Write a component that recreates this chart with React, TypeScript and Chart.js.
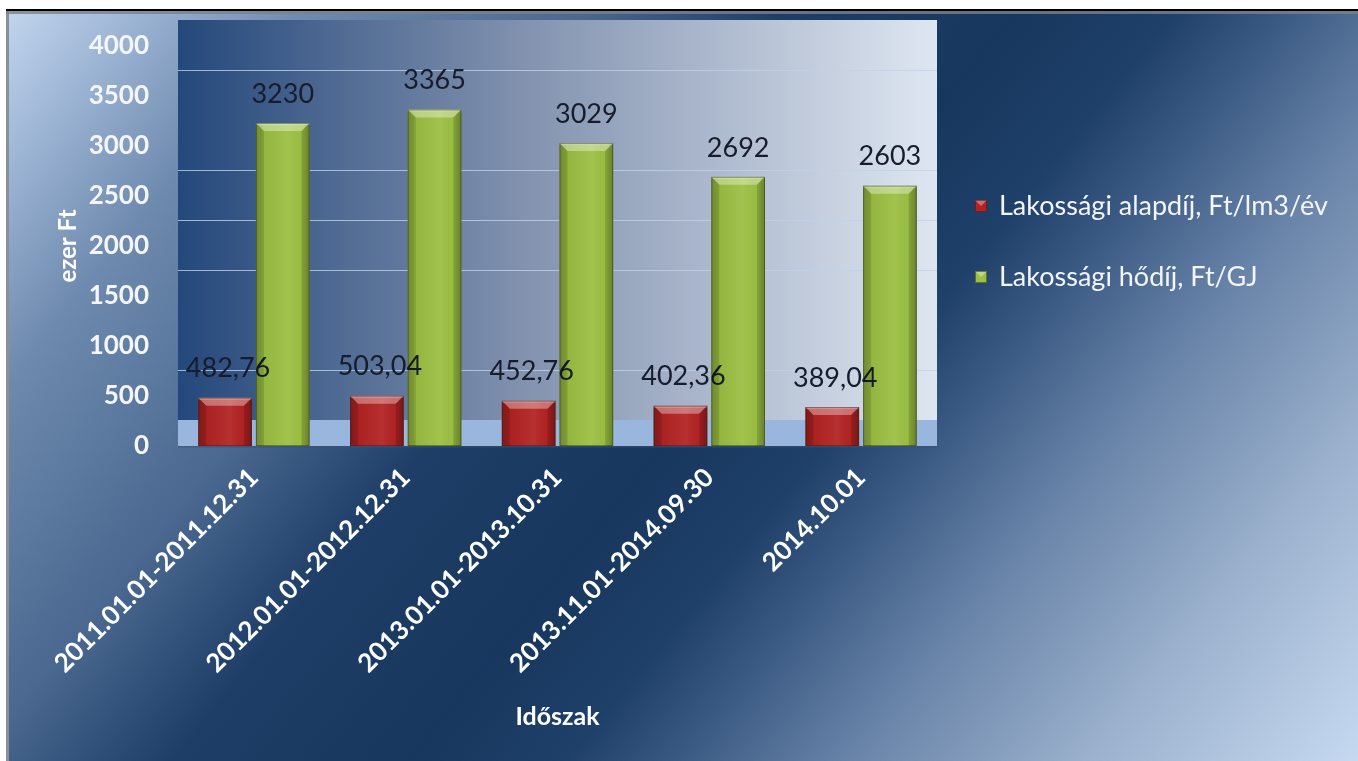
import React, { useEffect, useRef } from 'react';
import { Chart, registerables } from 'chart.js';

Chart.register(...registerables);

const categories = [
  '2011.01.01-2011.12.31',
  '2012.01.01-2012.12.31',
  '2013.01.01-2013.10.31',
  '2013.11.01-2014.09.30',
  '2014.10.01',
];
const alapdijValues = [482.76, 503.04, 452.76, 402.36, 389.04];
const hodijValues = [3230, 3365, 3029, 2692, 2603];
const seriesNames = ['Lakossági alapdíj, Ft/lm3/év', 'Lakossági hődíj, Ft/GJ'];
const yTickValues = [0, 500, 1000, 1500, 2000, 2500, 3000, 3500, 4000];
const wallGridValues = [500, 1500, 2000, 2500, 3500];
const yTitle = 'ezer Ft';
const xTitle = 'Időszak';

const W = 1358;
const H = 761;
const DEPTH = 26;
const FONT = 'Lato, "Open Sans", sans-serif';

const formatLabel = (ds: number, v: number) =>
  ds === 0 ? v.toFixed(2).replace('.', ',') : String(Math.round(v));

const backgroundPlugin = {
  id: 'bgPanel',
  beforeDraw(chart: any) {
    const ctx = chart.ctx as CanvasRenderingContext2D;
    const { left, right, top, bottom } = chart.chartArea;
    ctx.save();
    ctx.fillStyle = '#ffffff';
    ctx.fillRect(0, 0, W, H);
    // panel gradient
    const len = 1534;
    const ux = 690 / 888.6;
    const uy = 560 / 888.6;
    const g = ctx.createLinearGradient(0, 0, ux * len, uy * len);
    g.addColorStop(0, '#c6d9f1');
    g.addColorStop(0.08, '#9ab2d2');
    g.addColorStop(0.16, '#6e8aae');
    g.addColorStop(0.3, '#4a6890');
    g.addColorStop(0.4, '#1e3e67');
    g.addColorStop(0.52, '#17375e');
    g.addColorStop(0.6, '#1f4069');
    g.addColorStop(0.66, '#3d5c85');
    g.addColorStop(0.74, '#6883a8');
    g.addColorStop(0.86, '#9ab0cc');
    g.addColorStop(1, '#c6d9f1');
    ctx.fillStyle = g;
    ctx.fillRect(9, 11, W - 9, H - 11);
    // borders
    ctx.fillStyle = '#8a8f96';
    ctx.fillRect(6, 11, 3, H - 11);
    ctx.fillStyle = 'rgba(120,130,140,0.8)';
    ctx.fillRect(6, 11, W - 6, 3);
    ctx.fillStyle = '#000000';
    ctx.fillRect(6, 9, W - 6, 2);
    // back wall
    const wg = ctx.createLinearGradient(left, 0, right, 0);
    wg.addColorStop(0, '#24487b');
    wg.addColorStop(0.45, '#8191ae');
    wg.addColorStop(1, '#dee6f1');
    ctx.fillStyle = wg;
    ctx.fillRect(left, top - DEPTH, right - left, bottom - top);
    // wall grid lines
    const ys = chart.scales.y;
    ctx.strokeStyle = 'rgba(190,210,235,0.8)';
    ctx.lineWidth = 1.2;
    wallGridValues.forEach((v) => {
      const py = Math.round(ys.getPixelForValue(v) - DEPTH) + 0.5;
      ctx.beginPath();
      ctx.moveTo(left, py);
      ctx.lineTo(right, py);
      ctx.stroke();
    });
    // floor
    ctx.fillStyle = '#98b6de';
    ctx.fillRect(left, bottom - DEPTH, right - left, DEPTH);
    ctx.fillStyle = 'rgba(60,80,110,0.6)';
    ctx.fillRect(left, bottom, right - left, 1.5);
    ctx.restore();
  },
};

const bevelPlugin = {
  id: 'bevel',
  afterDatasetsDraw(chart: any) {
    const ctx = chart.ctx as CanvasRenderingContext2D;
    ctx.save();
    chart.data.datasets.forEach((ds: any, di: number) => {
      const meta = chart.getDatasetMeta(di);
      meta.data.forEach((el: any, i: number) => {
        const l = el.x - el.width / 2;
        const r = el.x + el.width / 2;
        const t = el.y;
        const b = el.base;
        const bv = 8;
        const fg = ctx.createLinearGradient(l, 0, r, 0);
        fg.addColorStop(0, 'rgba(0,0,0,0.18)');
        fg.addColorStop(0.15, 'rgba(0,0,0,0.05)');
        fg.addColorStop(0.6, 'rgba(255,255,255,0.06)');
        fg.addColorStop(0.88, 'rgba(0,0,0,0.02)');
        fg.addColorStop(1, 'rgba(0,0,0,0.2)');
        ctx.fillStyle = fg;
        ctx.fillRect(l, t, r - l, b - t);
        ctx.fillStyle = 'rgba(255,255,255,0.35)';
        ctx.beginPath();
        ctx.moveTo(l, t);
        ctx.lineTo(r, t);
        ctx.lineTo(r - bv, t + bv);
        ctx.lineTo(l + bv, t + bv);
        ctx.closePath();
        ctx.fill();
        ctx.fillStyle = 'rgba(255,255,255,0.25)';
        ctx.fillRect(l, t, r - l, 2);
        ctx.fillStyle = 'rgba(0,0,0,0.12)';
        ctx.beginPath();
        ctx.moveTo(l, t);
        ctx.lineTo(l + bv, t + bv);
        ctx.lineTo(l + bv, b);
        ctx.lineTo(l, b);
        ctx.closePath();
        ctx.fill();
        ctx.fillStyle = 'rgba(0,0,0,0.16)';
        ctx.beginPath();
        ctx.moveTo(r, t);
        ctx.lineTo(r - bv, t + bv);
        ctx.lineTo(r - bv, b);
        ctx.lineTo(r, b);
        ctx.closePath();
        ctx.fill();
        ctx.strokeStyle = 'rgba(40,40,30,0.45)';
        ctx.lineWidth = 1;
        ctx.strokeRect(l + 0.5, t + 0.5, r - l - 1, b - t - 1);
        ctx.fillStyle = '#161c2c';
        ctx.font = `27px ${FONT}`;
        ctx.textAlign = 'center';
        ctx.textBaseline = 'middle';
        ctx.fillText(formatLabel(di, ds.data[i]), el.x + (di === 0 ? 3 : 0), t - 29);
      });
    });
    ctx.restore();
  },
};

const legendPlugin = {
  id: 'customLegend',
  afterDraw(chart: any) {
    const ctx = chart.ctx as CanvasRenderingContext2D;
    ctx.save();
    const x0 = 975;
    const ys = [206, 277];
    chart.data.datasets.forEach((ds: any, i: number) => {
      const y = ys[i];
      const s = 12;
      ctx.fillStyle = ds.backgroundColor;
      ctx.fillRect(x0, y - s / 2, s, s);
      ctx.fillStyle = 'rgba(255,255,255,0.35)';
      ctx.beginPath();
      ctx.moveTo(x0, y - s / 2);
      ctx.lineTo(x0 + s, y - s / 2);
      ctx.lineTo(x0 + s / 2, y);
      ctx.closePath();
      ctx.fill();
      ctx.strokeStyle = 'rgba(30,30,30,0.5)';
      ctx.strokeRect(x0 + 0.5, y - s / 2 + 0.5, s - 1, s - 1);
      ctx.fillStyle = '#f2f5fa';
      ctx.font = `27px ${FONT}`;
      ctx.textAlign = 'left';
      ctx.textBaseline = 'middle';
      ctx.fillText(ds.label, 999, y);
    });
    ctx.restore();
  },
};

export default function App() {
  const ref = useRef<HTMLCanvasElement>(null);
  useEffect(() => {
    document.body.style.margin = '0';
    const canvas = ref.current;
    if (!canvas) return;
    const chart = new Chart(canvas, {
      type: 'bar',
      data: {
        labels: categories,
        datasets: [
          {
            label: seriesNames[0],
            data: alapdijValues,
            backgroundColor: '#b32323',
            borderWidth: 0,
            categoryPercentage: 0.76,
            barPercentage: 0.93,
          },
          {
            label: seriesNames[1],
            data: hodijValues,
            backgroundColor: '#9cc043',
            borderWidth: 0,
            categoryPercentage: 0.76,
            barPercentage: 0.93,
          },
        ],
      },
      options: {
        responsive: false,
        animation: false,
        layout: { padding: { left: 8, right: 421, top: 46, bottom: 0 } },
        plugins: {
          legend: { display: false },
          tooltip: { enabled: false },
        },
        scales: {
          x: {
            grid: { display: false, drawTicks: false },
            border: { display: false },
            ticks: {
              autoSkip: false,
              maxRotation: 45,
              minRotation: 45,
              padding: 16,
              color: '#ffffff',
              font: { family: FONT, size: 26, weight: 'bold' },
            },
            title: {
              display: true,
              text: xTitle,
              color: '#ffffff',
              font: { family: FONT, size: 25, weight: 'bold' },
              padding: { top: 0, bottom: 29 },
            },
            afterFit(scale: any) {
              scale.height = 315;
            },
          },
          y: {
            min: 0,
            max: 4000,
            grid: { display: false, drawTicks: false },
            border: { display: false },
            afterBuildTicks(scale: any) {
              scale.ticks = yTickValues.map((v) => ({ value: v }));
            },
            ticks: {
              padding: 29,
              color: '#f4f6fa',
              font: { family: FONT, size: 26, weight: 'bold' },
              callback: (v: any) => String(v),
            },
            title: {
              display: true,
              text: yTitle,
              color: '#ffffff',
              font: { family: FONT, size: 24, weight: 'bold' },
              padding: { top: 46, bottom: 0 },
            },
            afterFit(scale: any) {
              scale.width = 170;
            },
          },
        },
      },
      plugins: [backgroundPlugin, bevelPlugin, legendPlugin],
    });
    return () => chart.destroy();
  }, []);
  return (
    <canvas
      ref={ref}
      width={W}
      height={H}
      style={{ display: 'block', width: W, height: H }}
    />
  );
}
